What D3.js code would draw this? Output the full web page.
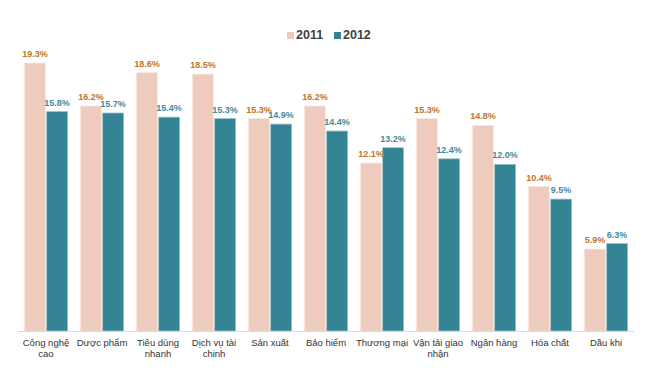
<!DOCTYPE html>
<meta charset="utf-8">
<head>
    <script src="https://d3js.org/d3.v7.min.js"></script>
    <style>
        body { margin: 0; background: #fff; }
        svg { font-family: "Liberation Sans", Arial, sans-serif; }
    </style>
</head>
<body>
<div id="chart"></div>
<script>
    // data
    var categories = [
        ["Công nghệ", "cao"], ["Dược phẩm"], ["Tiêu dùng", "nhanh"], ["Dịch vụ tài", "chinh"],
        ["Sản xuất"], ["Bảo hiểm"], ["Thương mại"], ["Vận tải giao", "nhận"],
        ["Ngân hàng"], ["Hóa chất"], ["Dầu khi"]
    ];
    var series = ["2011", "2012"];
    var values2011 = [19.3, 16.2, 18.6, 18.5, 15.3, 16.2, 12.1, 15.3, 14.8, 10.4, 5.9];
    var values2012 = [15.8, 15.7, 15.4, 15.3, 14.9, 14.4, 13.2, 12.4, 12.0, 9.5, 6.3];

    var barColors = ["#edcbbd", "#338395"];
    var labelColors = ["#c0752f", "#3f8b9d"];

    var width = 648, height = 382;
    var baseY = 331;

    var svg = d3.select("#chart").append("svg")
        .attr("width", width)
        .attr("height", height);

    var x0 = d3.scaleBand()
        .domain(d3.range(categories.length))
        .range([18, 634])
        .paddingInner(0.23)
        .paddingOuter(0.115);

    var x1 = d3.scaleBand()
        .domain(series)
        .range([0, x0.bandwidth()])
        .paddingInner(0.06);

    var y = d3.scaleLinear()
        .domain([0, 19.3])
        .range([baseY, 63]);

    var rows = categories.map(function (c, i) {
        return {i: i, vals: [values2011[i], values2012[i]]};
    });

    var groups = svg.append("g").selectAll("g")
        .data(rows)
        .enter()
        .append("g")
        .attr("transform", function (d) { return "translate(" + x0(d.i) + ",0)"; });

    groups.selectAll("rect")
        .data(function (d) { return d.vals.map(function (v, k) { return {k: k, v: v}; }); })
        .enter()
        .append("rect")
        .attr("x", function (d) { return x1(series[d.k]); })
        .attr("y", function (d) { return y(d.v); })
        .attr("width", x1.bandwidth())
        .attr("height", function (d) { return baseY - y(d.v); })
        .attr("fill", function (d) { return barColors[d.k]; })
        .attr("stroke", function (d) { return d.k === 0 ? "#f7e6df" : "#9cc3cc"; })
        .attr("stroke-width", 0.8);

    // value labels
    groups.selectAll("text")
        .data(function (d) { return d.vals.map(function (v, k) { return {k: k, v: v}; }); })
        .enter()
        .append("text")
        .attr("x", function (d) { return x1(series[d.k]) + x1.bandwidth() / 2; })
        .attr("y", function (d) { return y(d.v) - 6; })
        .attr("text-anchor", "middle")
        .style("font-size", "9px")
        .style("font-weight", "bold")
        .style("fill", function (d) { return labelColors[d.k]; })
        .text(function (d) { return d.v.toFixed(1) + "%"; });

    // axis line
    svg.append("line")
        .attr("x1", 18).attr("x2", 634)
        .attr("y1", baseY + 0.5).attr("y2", baseY + 0.5)
        .style("stroke", "#d9d9d9")
        .style("stroke-width", 1);

    // category labels
    var tick = svg.append("g").selectAll("text")
        .data(categories)
        .enter()
        .append("text")
        .attr("x", function (d, i) { return x0(i) + x0.bandwidth() / 2; })
        .attr("y", baseY + 15)
        .attr("text-anchor", "middle")
        .style("font-size", "9.5px")
        .style("fill", "#333");

    tick.selectAll("tspan")
        .data(function (d) { return d; })
        .enter()
        .append("tspan")
        .attr("x", function () { return this.parentNode.getAttribute("x"); })
        .attr("dy", function (d, i) { return i === 0 ? 0 : 11; })
        .text(function (d) { return d; });

    // legend
    var legendX = [287, 334];
    var legend = svg.append("g").selectAll("g")
        .data(series)
        .enter()
        .append("g")
        .attr("transform", function (d, i) { return "translate(" + legendX[i] + ",32)"; });

    legend.append("rect")
        .attr("width", 7)
        .attr("height", 7)
        .attr("fill", function (d, i) { return barColors[i]; });

    legend.append("text")
        .attr("x", 9)
        .attr("y", 7)
        .style("font-size", "12.5px")
        .style("font-weight", "bold")
        .style("fill", "#404040")
        .text(function (d) { return d; });
</script>
</body>
